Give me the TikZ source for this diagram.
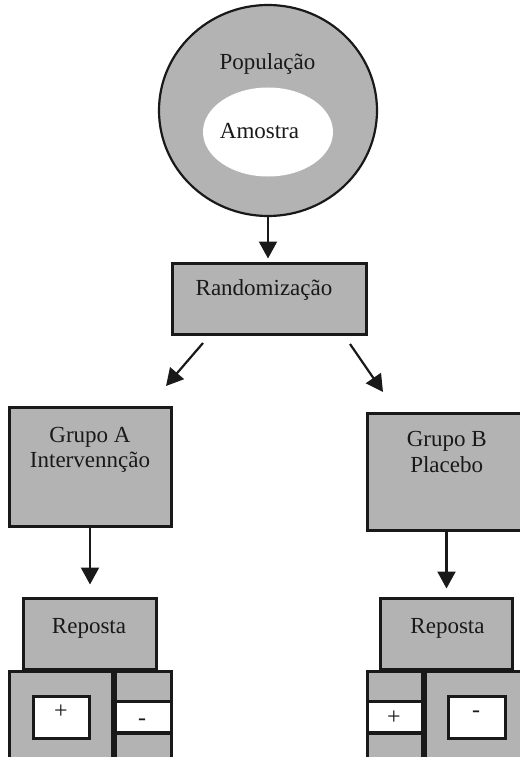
\documentclass[tikz,border=0pt]{standalone}
\usepackage{fontspec}
\setmainfont{Liberation Serif}
\usetikzlibrary{shapes.geometric,arrows.meta}
\definecolor{boxgray}{RGB}{179,179,179}
\definecolor{edge}{RGB}{25,25,25}
\begin{document}
\begin{tikzpicture}[x=1pt,y=-1pt,
  lbl/.style={inner sep=0pt,anchor=base,text=edge,font=\fontsize{23}{25}\selectfont},
  sign/.style={inner sep=0pt,anchor=center,text=edge,font=\fontsize{24}{26}\selectfont},
  box/.style={draw=edge,fill=boxgray,line width=3pt,inner sep=0pt},
  wbox/.style={draw=edge,fill=white,line width=3pt,inner sep=0pt},
  arr/.style={draw=edge,line width=2.2pt,-{Triangle[length=17pt,width=18pt]}}
]
\useasboundingbox (0,0) rectangle (519,757);

% population / sample
\node[ellipse,draw=edge,fill=boxgray,line width=2.2pt,inner sep=0pt,
      minimum width=218pt,minimum height=211pt] (pop) at (268,110.5) {};
\node[ellipse,fill=white,inner sep=0pt,
      minimum width=130pt,minimum height=89pt] (amo) at (268,132) {};
\node[lbl] (popt) at (267.5,70) {População};
\node[lbl] (amot) at (259.5,139) {Amostra};

% randomization
\node[box,minimum width=194pt,minimum height=71pt] (rand) at (269,298.5) {};
\node[lbl] (randt) at (264,295) {Randomização};

% groups
\node[box,minimum width=162pt,minimum height=119pt] (ga) at (90,466.5) {};
\node[lbl] (gat1) at (90,442) {Grupo A};
\node[lbl] (gat2) at (90,467) {Intervennção};

\node[box,minimum width=159pt,minimum height=117pt] (gb) at (446.5,471.5) {};
\node[lbl] (gbt1) at (446.7,446) {Grupo B};
\node[lbl] (gbt2) at (446.7,472) {Placebo};

% responses
\node[box,minimum width=133pt,minimum height=71pt] (repa) at (89.5,633.5) {};
\node[lbl] (repat) at (89,633) {Reposta};
\node[box,minimum width=132pt,minimum height=71pt] (repb) at (446,633.5) {};
\node[lbl] (repbt) at (447.5,633) {Reposta};

% lower blocks A
\node[box,minimum width=103pt,minimum height=109pt] (abig) at (60.5,725.5) {};
\node[wbox,minimum width=56pt,minimum height=42pt] (aplus) at (61,717) {};
\node[sign] (aplust) at (61,712) {+};
\node[box,minimum width=56pt,minimum height=30pt] (acol1) at (143,686) {};
\node[wbox,minimum width=56pt,minimum height=31pt] (aminus) at (143,716.5) {};
\node[box,minimum width=56pt,minimum height=47pt] (acol3) at (143,756.5) {};
\node[sign] (aminust) at (142,722.5) {-};

% lower blocks B
\node[box,minimum width=55pt,minimum height=30pt] (bcol1) at (394.5,686) {};
\node[wbox,minimum width=55pt,minimum height=31pt] (bplus) at (394.5,716.5) {};
\node[box,minimum width=55pt,minimum height=47pt] (bcol3) at (394.5,756.5) {};
\node[sign] (bplust) at (394,718) {+};
\node[box,minimum width=110pt,minimum height=109pt] (bbig) at (480,725.5) {};
\node[wbox,minimum width=57pt,minimum height=42pt] (bminus) at (476.5,717) {};
\node[sign] (bminust) at (476,714.5) {-};

% connectors
\coordinate (r1s) at (203,343);
\coordinate (r1e) at (166,386);
\coordinate (r2s) at (350,344);
\coordinate (r2e) at (383,392);
\draw[arr,shorten >=3pt] (pop.south) -- (pop.south |- rand.north);
\draw[arr] (r1s) -- (r1e);
\draw[arr] (r2s) -- (r2e);
\draw[arr,shorten >=12pt] (ga.south) -- (ga.south |- repa.north);
\draw[arr,shorten >=8pt] (gb.south) -- (gb.south |- repb.north);
\end{tikzpicture}
\end{document}
